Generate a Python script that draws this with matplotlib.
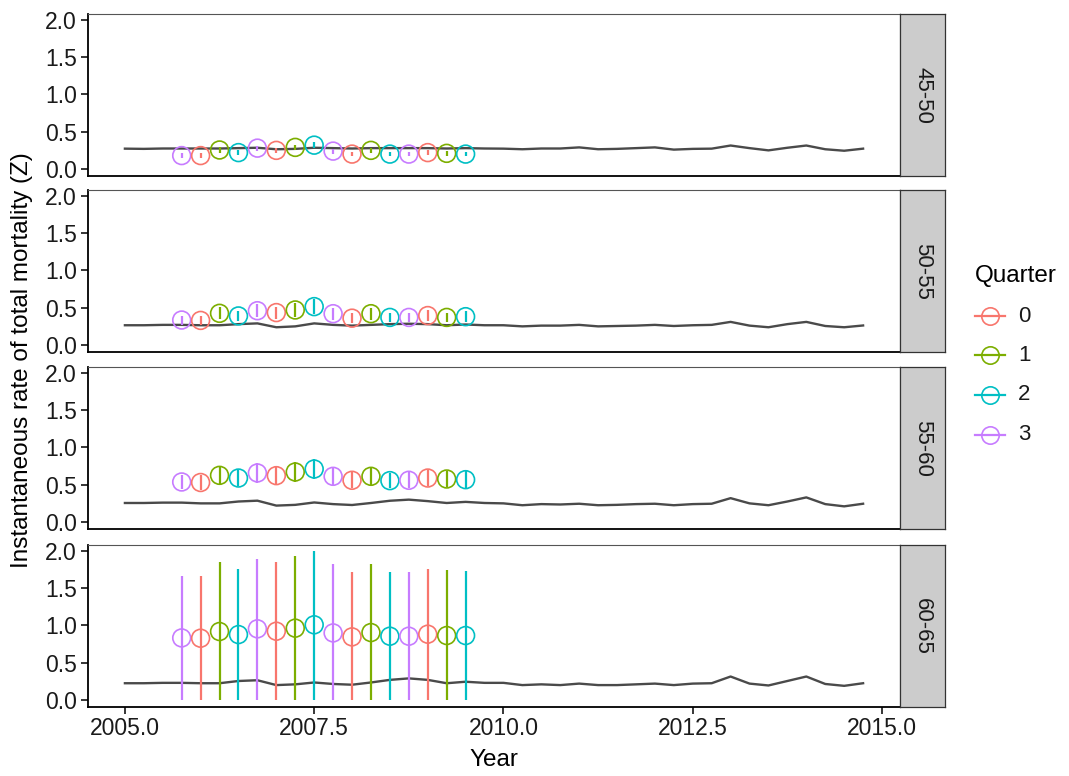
import matplotlib
matplotlib.use("Agg")
import matplotlib.pyplot as plt
from matplotlib.lines import Line2D

plt.rcParams['font.family'] = ['Liberation Sans', 'DejaVu Sans']

# ---- data -------------------------------------------------------------
age_groups = ["45-50", "50-55", "55-60", "60-65"]
quarters = [0, 1, 2, 3]
quarter_colors = ["#F8766D", "#7CAE00", "#00BFC4", "#C77CFF"]

# quarterly time axis of the reference line (2005.0 .. 2014.75)
line_years = [2005 + 0.25 * i for i in range(40)]
# quarterly estimates with intervals (2005.75 .. 2009.5)
est_years = [2005.75 + 0.25 * i for i in range(16)]
est_quarter = [3, 0, 1, 2, 3, 0, 1, 2, 3, 0, 1, 2, 3, 0, 1, 2]

line_45_50 = [0.273, 0.270, 0.275, 0.275, 0.275, 0.275, 0.280, 0.285, 0.265, 0.270,
              0.285, 0.280, 0.275, 0.280, 0.280, 0.280, 0.280, 0.275, 0.280, 0.275,
              0.273, 0.265, 0.275, 0.275, 0.290, 0.265, 0.270, 0.280, 0.290, 0.260,
              0.270, 0.273, 0.315, 0.280, 0.250, 0.285, 0.315, 0.265, 0.245, 0.273]
line_50_55 = [0.265, 0.265, 0.270, 0.270, 0.265, 0.265, 0.280, 0.290, 0.238, 0.250,
              0.290, 0.270, 0.260, 0.270, 0.280, 0.285, 0.280, 0.265, 0.275, 0.265,
              0.265, 0.250, 0.260, 0.260, 0.270, 0.250, 0.255, 0.260, 0.270, 0.255,
              0.265, 0.270, 0.310, 0.260, 0.238, 0.280, 0.310, 0.255, 0.238, 0.262]
line_55_60 = [0.255, 0.255, 0.260, 0.260, 0.250, 0.250, 0.275, 0.286, 0.220, 0.230,
              0.262, 0.240, 0.228, 0.255, 0.285, 0.300, 0.280, 0.255, 0.270, 0.255,
              0.250, 0.225, 0.240, 0.235, 0.245, 0.225, 0.230, 0.240, 0.245, 0.225,
              0.240, 0.245, 0.320, 0.250, 0.225, 0.275, 0.330, 0.240, 0.210, 0.245]
line_60_65 = [0.225, 0.225, 0.230, 0.230, 0.225, 0.225, 0.255, 0.265, 0.200, 0.210,
              0.235, 0.215, 0.205, 0.235, 0.270, 0.290, 0.270, 0.225, 0.245, 0.230,
              0.230, 0.200, 0.210, 0.200, 0.220, 0.200, 0.200, 0.210, 0.220, 0.200,
              0.220, 0.225, 0.315, 0.220, 0.195, 0.255, 0.315, 0.215, 0.190, 0.225]

z_45_50 = [0.18, 0.18, 0.255, 0.22, 0.28, 0.25, 0.29, 0.32, 0.24, 0.20, 0.25, 0.20, 0.20, 0.22, 0.21, 0.20]
lo_45_50 = [0.15, 0.15, 0.22, 0.19, 0.245, 0.215, 0.255, 0.28, 0.205, 0.17, 0.215, 0.17, 0.17, 0.19, 0.18, 0.17]
hi_45_50 = [0.21, 0.21, 0.29, 0.25, 0.315, 0.285, 0.325, 0.36, 0.275, 0.23, 0.285, 0.23, 0.23, 0.25, 0.24, 0.23]

z_50_55 = [0.335, 0.33, 0.425, 0.39, 0.46, 0.435, 0.47, 0.515, 0.42, 0.36, 0.42, 0.37, 0.37, 0.395, 0.37, 0.38]
lo_50_55 = [0.275, 0.27, 0.345, 0.32, 0.37, 0.355, 0.38, 0.415, 0.34, 0.295, 0.34, 0.305, 0.305, 0.325, 0.305, 0.31]
hi_50_55 = [0.395, 0.39, 0.505, 0.46, 0.55, 0.515, 0.56, 0.615, 0.50, 0.425, 0.50, 0.435, 0.435, 0.465, 0.435, 0.45]

z_55_60 = [0.537, 0.53, 0.626, 0.59, 0.658, 0.622, 0.671, 0.711, 0.613, 0.56, 0.613, 0.555, 0.56, 0.59, 0.577, 0.568]
lo_55_60 = [0.437, 0.43, 0.506, 0.48, 0.528, 0.502, 0.541, 0.571, 0.493, 0.455, 0.493, 0.45, 0.455, 0.48, 0.467, 0.458]
hi_55_60 = [0.637, 0.63, 0.746, 0.70, 0.788, 0.742, 0.801, 0.851, 0.733, 0.665, 0.733, 0.66, 0.665, 0.70, 0.687, 0.678]

z_60_65 = [0.833, 0.829, 0.919, 0.878, 0.955, 0.923, 0.964, 1.009, 0.90, 0.847, 0.905, 0.856, 0.856, 0.883, 0.865, 0.865]
lo_60_65 = [0.0] * 16
hi_60_65 = [1.667, 1.667, 1.847, 1.761, 1.896, 1.847, 1.928, 2.0, 1.829, 1.712, 1.824, 1.712, 1.716, 1.761, 1.743, 1.725]

lines = [line_45_50, line_50_55, line_55_60, line_60_65]
z_vals = [z_45_50, z_50_55, z_55_60, z_60_65]
z_lo = [lo_45_50, lo_50_55, lo_55_60, lo_60_65]
z_hi = [hi_45_50, hi_50_55, hi_55_60, hi_60_65]

x_ticks = [2005.0, 2007.5, 2010.0, 2012.5, 2015.0]
y_ticks = [0.0, 0.5, 1.0, 1.5, 2.0]

# ---- layout (pixel based) ---------------------------------------------
W, H = 1069, 776
fig = plt.figure(figsize=(W / 100, H / 100), dpi=100)
fig.patch.set_facecolor("white")

def fx(px):
    return px / W

def fy(py):
    return 1 - py / H

panel_left, panel_right = 88, 900
panel_rows = [(14, 176), (190, 352), (367, 529), (545, 707)]
strip_w = 45
text_col = "#1a1a1a"
tick_fs = 16.5
title_fs = 17.5

for i, (top, bot) in enumerate(panel_rows):
    ax = fig.add_axes([fx(panel_left), fy(bot), fx(panel_right - panel_left), (bot - top) / H])
    ax.set_xlim(2004.5125, 2015.2375)
    ax.set_ylim(-0.094, 2.08)

    ax.plot(line_years, lines[i], color="#4a4a4a", lw=1.7, zorder=2)

    cols = [quarter_colors[q] for q in est_quarter]
    ax.vlines(est_years, z_lo[i], z_hi[i], colors=cols, lw=1.6, zorder=3)
    ax.scatter(est_years, z_vals[i], s=165, facecolors="none", edgecolors=cols,
               linewidths=1.2, zorder=4)

    for side in ("top", "right"):
        ax.spines[side].set_color("#555555")
        ax.spines[side].set_linewidth(0.8)
    for side in ("left", "bottom"):
        ax.spines[side].set_color("black")
        ax.spines[side].set_linewidth(1.3)

    ax.set_yticks(y_ticks)
    ax.set_yticklabels([f"{v:.1f}" for v in y_ticks])
    ax.tick_params(axis="y", length=5, width=1.1, labelsize=tick_fs, labelcolor=text_col, pad=3)
    if i == len(panel_rows) - 1:
        ax.set_xticks(x_ticks)
        ax.set_xticklabels([f"{v:.1f}" for v in x_ticks])
        ax.tick_params(axis="x", length=5, width=1.1, labelsize=tick_fs, labelcolor=text_col, pad=2)
    else:
        ax.set_xticks([])

    # facet strip on the right
    sax = fig.add_axes([fx(panel_right), fy(bot), fx(strip_w), (bot - top) / H])
    sax.set_xticks([])
    sax.set_yticks([])
    sax.set_facecolor("#CCCCCC")
    for sp in sax.spines.values():
        sp.set_color("#333333")
        sp.set_linewidth(0.9)
    sax.text(0.5, 0.5, age_groups[i], rotation=270, ha="center", va="center",
             fontsize=16, color=text_col, transform=sax.transAxes)

# axis titles
fig.text(fx(22), fy((panel_rows[0][0] + panel_rows[-1][1]) / 2),
         "Instantaneous rate of total mortality (Z)", rotation=90,
         ha="center", va="center", fontsize=title_fs, color="black")
fig.text(fx((panel_left + panel_right) / 2), fy(760), "Year",
         ha="center", va="center", fontsize=title_fs, color="black")

# legend
fig.text(fx(975), fy(276), "Quarter", ha="left", va="center", fontsize=title_fs, color="black")
for k, q in enumerate(quarters):
    yk = 316 + 39.5 * k
    fig.add_artist(Line2D([fx(975), fx(1005)], [fy(yk), fy(yk)], transform=fig.transFigure,
                          color=quarter_colors[k], lw=1.6))
    fig.add_artist(Line2D([fx(990)], [fy(yk)], transform=fig.transFigure, marker="o",
                          markersize=12.5, markerfacecolor="none",
                          markeredgecolor=quarter_colors[k], markeredgewidth=1.2, lw=0))
    fig.text(fx(1018), fy(yk), str(q), ha="left", va="center", fontsize=16, color=text_col)

fig.savefig("out.png", dpi=100)
